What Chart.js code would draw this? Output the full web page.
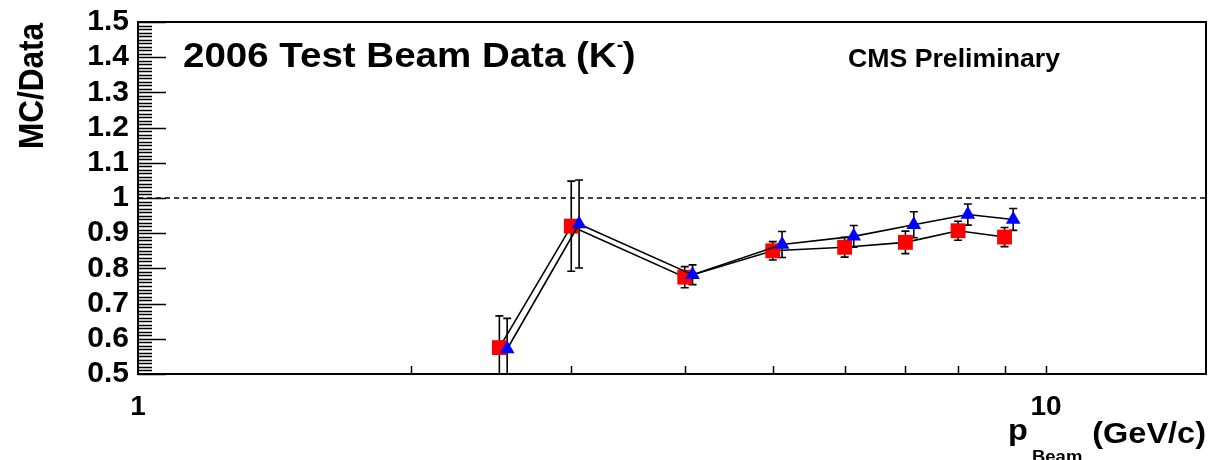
<!DOCTYPE html>
<html>
<head>
<meta charset="utf-8">
<script src="https://cdn.jsdelivr.net/npm/chart.js@4/dist/chart.umd.min.js"></script>
<style>
html, body { margin: 0; padding: 0; background: #fff; }
#grafico { display: block; }
</style>
</head>
<body>
<canvas id="grafico" width="1209" height="460"></canvas>
<script>
// serie roja (cuadrados)
const pRed = [2.5, 3, 4, 5, 6, 7, 8, 9];
const ratioRed = [0.575, 0.92, 0.775, 0.85, 0.86, 0.874, 0.907, 0.889];
const errRed = [0.09, 0.128, 0.03, 0.026, 0.028, 0.032, 0.027, 0.027];
// serie azul (triangulos)
const pBlue = [2.55, 3.06, 4.08, 5.12, 6.14, 7.15, 8.2, 9.2];
const ratioBlue = [0.571, 0.926, 0.782, 0.868, 0.891, 0.924, 0.953, 0.939];
const errBlue = [0.087, 0.125, 0.028, 0.037, 0.031, 0.037, 0.03, 0.031];

const xTickLabels = [1, 10];
const xMinorTicks = [2, 3, 4, 5, 6, 7, 8, 9, 10];
const refLine = 1;

const FONT = "'Liberation Sans', Arial, sans-serif";

function puntos(xs, ys) {
    return xs.map((v, i) => ({ x: v, y: ys[i] }));
}

function texto(ctx, str, x, y, size, sx) {
    ctx.save();
    ctx.translate(x, y);
    ctx.scale(sx, 1);
    ctx.font = `bold ${size}px ${FONT}`;
    ctx.fillText(str, 0, 0);
    const w = ctx.measureText(str).width * sx;
    ctx.restore();
    return w;
}

const marco = {
    id: 'marco',
    beforeDatasetsDraw(chart) {
        const { ctx, chartArea: a, scales: { x, y } } = chart;
        ctx.save();
        // linea punteada en 1
        const y1 = y.getPixelForValue(refLine);
        ctx.strokeStyle = '#000';
        ctx.lineWidth = 1.5;
        ctx.setLineDash([5, 4]);
        ctx.beginPath();
        ctx.moveTo(a.left, y1);
        ctx.lineTo(a.right, y1);
        ctx.stroke();
        ctx.setLineDash([]);

        // barras de error
        ctx.beginPath();
        ctx.rect(a.left, a.top, a.right - a.left, a.bottom - a.top);
        ctx.clip();
        ctx.lineWidth = 1.6;
        chart.data.datasets.forEach(ds => {
            ds.data.forEach((pt, i) => {
                const px = x.getPixelForValue(pt.x);
                const top = y.getPixelForValue(pt.y + ds.errores[i]);
                const bot = y.getPixelForValue(pt.y - ds.errores[i]);
                ctx.beginPath();
                ctx.moveTo(px, top);
                ctx.lineTo(px, bot);
                ctx.moveTo(px - 4, top);
                ctx.lineTo(px + 4, top);
                ctx.moveTo(px - 4, bot);
                ctx.lineTo(px + 4, bot);
                ctx.stroke();
            });
        });
        ctx.restore();
    },
    afterDraw(chart) {
        const { ctx, chartArea: a, scales: { x, y } } = chart;
        ctx.save();
        ctx.strokeStyle = '#000';
        ctx.fillStyle = '#000';

        // marco arriba y derecha
        ctx.lineWidth = 2;
        ctx.beginPath();
        ctx.moveTo(a.left, a.top);
        ctx.lineTo(a.right, a.top);
        ctx.lineTo(a.right, a.bottom);
        ctx.stroke();

        // ticks del eje y (hacia adentro)
        ctx.lineWidth = 1.5;
        ctx.beginPath();
        for (let k = 0; k <= 100; k++) {
            const v = y.min + k * 0.01;
            const py = Math.round(y.getPixelForValue(v)) + 0.5;
            const len = k % 10 === 0 ? 28 : 14;
            ctx.moveTo(a.left, py);
            ctx.lineTo(a.left + len, py);
        }
        // ticks del eje x
        xMinorTicks.forEach(v => {
            const px = Math.round(x.getPixelForValue(v)) + 0.5;
            ctx.moveTo(px, a.bottom);
            ctx.lineTo(px, a.bottom - 8);
        });
        ctx.stroke();

        // textos
        ctx.textBaseline = 'alphabetic';
        ctx.textAlign = 'left';
        let w = texto(ctx, '2006 Test Beam Data (K', 183, 67, 35, 1.1);
        texto(ctx, '-', 183 + w, 51, 18, 1.1);
        w += 6;
        texto(ctx, ')', 183 + w, 67, 35, 1.1);

        texto(ctx, 'CMS Preliminary', 848, 67, 25, 1.067);

        texto(ctx, 'p', 1008, 440, 29, 1.12);
        texto(ctx, 'Beam', 1032, 462, 16.5, 1.12);
        ctx.textAlign = 'right';
        texto(ctx, '(GeV/c)', 1206, 443, 29, 1.12);

        // titulo del eje y, rotado
        ctx.save();
        ctx.translate(43, 23);
        ctx.scale(1.1, 1);
        ctx.rotate(-Math.PI / 2);
        ctx.textAlign = 'right';
        ctx.font = `bold 31.5px ${FONT}`;
        ctx.fillText('MC/Data', 0, 0);
        ctx.restore();

        ctx.restore();
    }
};

const ctx = document.getElementById('grafico').getContext('2d');
const grafico = new Chart(ctx, {
    type: 'scatter',
    data: {
        datasets: [{
            data: puntos(pRed, ratioRed),
            errores: errRed,
            order: 1,
            showLine: true,
            borderColor: '#000',
            borderWidth: 1.6,
            backgroundColor: '#ff0000',
            pointStyle: 'rect',
            pointRadius: 10.5,
            pointBorderWidth: 0,
            tension: 0
        }, {
            data: puntos(pBlue, ratioBlue),
            errores: errBlue,
            order: 0,
            showLine: true,
            borderColor: '#000',
            borderWidth: 1.6,
            backgroundColor: '#0000ff',
            pointStyle: 'triangle',
            pointRadius: 8.5,
            pointBorderWidth: 0,
            tension: 0
        }]
    },
    options: {
        responsive: false,
        animation: false,
        layout: { autoPadding: false, padding: { top: 22, right: 3, left: 0, bottom: 0 } },
        plugins: {
            legend: { display: false },
            tooltip: { enabled: false }
        },
        scales: {
            x: {
                type: 'logarithmic',
                min: 1,
                max: 15,
                grid: { display: false, drawTicks: false },
                border: { display: true, color: '#000', width: 2 },
                afterBuildTicks: s => { s.ticks = xTickLabels.map(v => ({ value: v })); },
                afterFit: s => { s.height = 86; s.paddingLeft = 0; s.paddingRight = 0; },
                ticks: {
                    autoSkip: false,
                    maxRotation: 0,
                    padding: 16,
                    color: '#000',
                    font: { family: FONT, size: 28, weight: 'bold' },
                    callback: v => String(v)
                }
            },
            y: {
                min: 0.5,
                max: 1.5,
                grid: { display: false, drawTicks: false },
                border: { display: true, color: '#000', width: 2 },
                afterFit: s => { s.width = 138; s.paddingTop = 0; s.paddingBottom = 0; },
                ticks: {
                    autoSkip: false,
                    stepSize: 0.1,
                    padding: 9,
                    color: '#000',
                    font: { family: FONT, size: 30, weight: 'bold' },
                    callback: v => Math.abs(v - 1) < 1e-9 ? '1' : v.toFixed(1)
                }
            }
        }
    },
    plugins: [marco]
});
</script>
</body>
</html>
